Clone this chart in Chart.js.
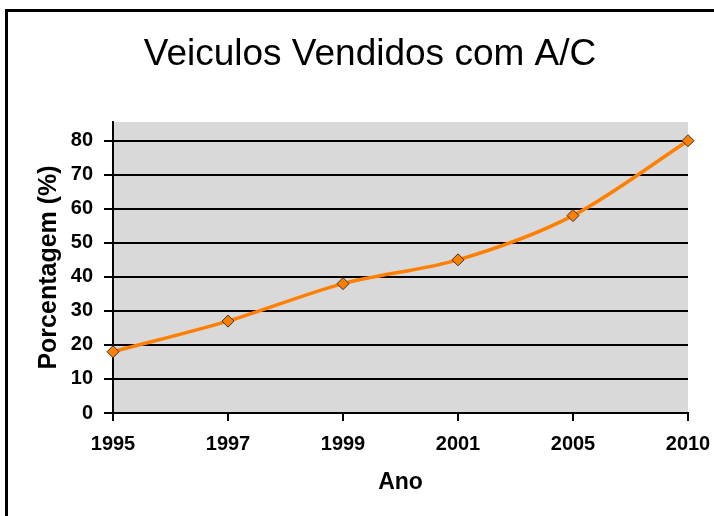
<!DOCTYPE html>
<html>
<head>
<meta charset="utf-8">
<script src="https://cdn.jsdelivr.net/npm/chart.js@4.4.1/dist/chart.umd.min.js"></script>
<style>
  html, body { margin: 0; padding: 0; background: #fff; }
  #wrap { width: 714px; height: 516px; }
</style>
</head>
<body>
<div id="wrap"><canvas id="chartLine" width="714" height="516"></canvas></div>
<script>
// dados
const anos = ['1995', '1997', '1999', '2001', '2005', '2010'];
const porcentagem = [18, 27, 38, 45, 58, 80];
const yTicks = [0, 10, 20, 30, 40, 50, 60, 70, 80];

const fonte = "'Liberation Sans', Arial, sans-serif";

// fundo cinza da area do grafico + moldura preta
const fundo = {
    id: 'fundo',
    beforeDraw(chart) {
        const ctx = chart.ctx;
        const a = chart.chartArea;
        ctx.save();
        ctx.fillStyle = '#d9d9d9';
        ctx.fillRect(a.left, a.top, a.right - a.left, a.bottom - a.top);
        ctx.strokeStyle = '#000';
        ctx.lineWidth = 3;
        ctx.strokeRect(6.5, 10.5, 730, 530);
        ctx.restore();
    }
};

const ctx = document.getElementById('chartLine').getContext('2d');
const chart = new Chart(ctx, {
    type: 'line',
    data: {
        labels: anos,
        datasets: [{
            label: 'Porcentagem',
            data: porcentagem,
            borderColor: '#ff7f00',
            borderWidth: 3.5,
            tension: 0.3,
            pointStyle: 'rectRot',
            pointRadius: 6,
            pointBackgroundColor: '#ff8000',
            pointBorderColor: '#333',
            pointBorderWidth: 1,
            clip: false
        }]
    },
    options: {
        responsive: false,
        animation: false,
        layout: { padding: { left: 26, right: 0, top: 0, bottom: 0 } },
        plugins: {
            legend: { display: false },
            tooltip: { enabled: false },
            title: {
                display: true,
                text: 'Veiculos Vendidos com A/C',
                color: '#000',
                font: { family: fonte, size: 37, weight: 'normal' },
                padding: { top: 33, bottom: 44.6 }
            }
        },
        scales: {
            x: {
                type: 'category',
                offset: false,
                grid: { display: true, drawOnChartArea: false, drawTicks: true, tickLength: 8, color: '#000', lineWidth: 2 },
                border: { display: true, color: '#000', width: 2 },
                ticks: { color: '#000', padding: 11, maxRotation: 0, font: { family: fonte, size: 20, weight: 'bold' } },
                title: {
                    display: true, text: 'Ano', color: '#000',
                    font: { family: fonte, size: 23, weight: 'bold' },
                    padding: { top: 0, bottom: 20 }
                },
                afterFit(scale) {
                    scale.height = 103;
                    scale.paddingLeft = 0;
                    scale.paddingRight = 26;
                }
            },
            y: {
                min: 0,
                max: 85.5,
                grid: { color: '#000', lineWidth: 2, tickLength: 9 },
                border: { display: true, color: '#000', width: 2 },
                ticks: { color: '#000', padding: 11, font: { family: fonte, size: 20, weight: 'bold' } },
                afterBuildTicks(scale) {
                    scale.ticks = yTicks.map(v => ({ value: v }));
                },
                title: {
                    display: true, text: 'Porcentagem (%)', color: '#000',
                    font: { family: fonte, size: 25, weight: 'bold' },
                    padding: { top: 8, bottom: 0 }
                },
                afterFit(scale) {
                    scale.width = 87;
                    scale.paddingTop = 0;
                    scale.paddingBottom = 0;
                }
            }
        }
    },
    plugins: [fundo]
});
</script>
</body>
</html>
